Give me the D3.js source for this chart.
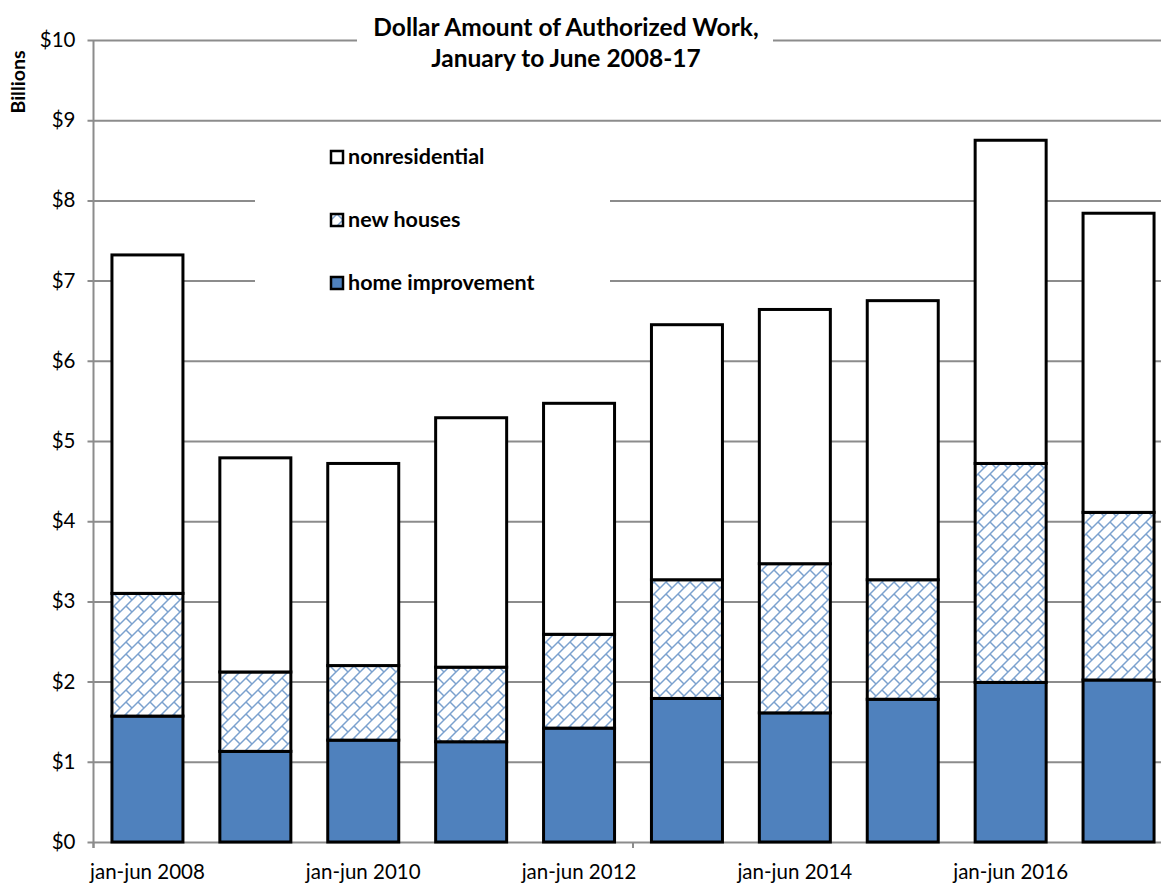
<!DOCTYPE html>
<html>
<head>
<meta charset="utf-8">
<script src="https://cdn.jsdelivr.net/npm/d3@7"></script>
<style>
  body { margin: 0; background: #fff; }
  text { font-family: Lato, "Open Sans", sans-serif; fill: #000; }
</style>
</head>
<body>
<svg id="chart" width="1161" height="883"></svg>
<script>
// data (billions of dollars)
const periods = ["2008","2009","2010","2011","2012","2013","2014","2015","2016","2017"];
const homeImprovement = [1.57, 1.13, 1.27, 1.25, 1.42, 1.79, 1.61, 1.78, 1.99, 2.02];
const newHouses       = [1.53, 0.99, 0.93, 0.93, 1.17, 1.48, 1.86, 1.49, 2.73, 2.09];
const nonresidential  = [4.22, 2.67, 2.52, 3.11, 2.88, 3.18, 3.17, 3.48, 4.03, 3.73];
const yTicks = [0,1,2,3,4,5,6,7,8,9,10];
const seriesKeys = ["home", "newh", "nonres"];
const legendNames = ["nonresidential", "new houses", "home improvement"];

const svg = d3.select("#chart");

//plot area
const pLeft = 93.5, pRight = 1172.5, pTop = 40, pBottom = 842;

const x = d3.scaleBand().domain(periods).range([pLeft, pRight])
    .paddingInner(0.342).paddingOuter(0.171);
const y = d3.scaleLinear().domain([0, 10]).range([pBottom, pTop]);

// hatch pattern for new houses
const defs = svg.append("defs");
const pat = defs.append("pattern")
    .attr("id", "hatch").attr("patternUnits", "userSpaceOnUse")
    .attr("width", 12).attr("height", 12);
pat.append("rect").attr("width", 12).attr("height", 12).attr("fill", "#fff");
pat.append("path")
    .attr("d", "M-3,3 L3,-3 M0,12 L12,0 M9,15 L15,9 M6,6 L12,12")
    .attr("stroke", "#4f81bd").attr("stroke-width", 1.5).attr("stroke-opacity", 0.75);

// gridlines + y labels
const yAxis = d3.axisLeft(y).tickValues(yTicks).tickFormat(d => "$" + d)
    .tickSize(-(pRight - pLeft)).tickPadding(18);
const gy = svg.append("g").attr("transform", `translate(${pLeft},0)`).call(yAxis);
gy.select(".domain").remove();
gy.selectAll(".tick line").attr("x1", -6).attr("stroke", "#8c8c8c").attr("stroke-width", 2);
gy.selectAll(".tick text").attr("font-size", 20.5).style("font-family", "Lato, sans-serif");

// left axis line
svg.append("line").attr("x1", pLeft).attr("x2", pLeft).attr("y1", pTop).attr("y2", pBottom + 6)
    .attr("stroke", "#8c8c8c").attr("stroke-width", 2);

// x ticks every 5 categories
[0, 5].forEach(i => {
    const xx = pLeft + i * x.step();
    svg.append("line").attr("x1", xx).attr("x2", xx).attr("y1", pBottom).attr("y2", pBottom + 6)
        .attr("stroke", "#8c8c8c").attr("stroke-width", 2);
});

// white boxes behind title and legend
svg.append("rect").attr("x", 357).attr("y", 10).attr("width", 416).attr("height", 62).attr("fill", "#fff");
svg.append("rect").attr("x", 255).attr("y", 125).attr("width", 355).attr("height", 180).attr("fill", "#fff");

// stacked bars
const rows = periods.map((p, i) => ({ period: p, home: homeImprovement[i], newh: newHouses[i], nonres: nonresidential[i] }));
const stacked = d3.stack().keys(seriesKeys)(rows);
const fills = { home: "#4f81bd", newh: "url(#hatch)", nonres: "#fff" };

svg.append("g").selectAll("g").data(stacked).join("g")
    .attr("fill", d => fills[d.key])
    .selectAll("rect").data(d => d).join("rect")
    .attr("x", d => x(d.data.period))
    .attr("width", x.bandwidth())
    .attr("y", d => y(d[1]))
    .attr("height", d => y(d[0]) - y(d[1]))
    .attr("stroke", "#000").attr("stroke-width", 3);

// x labels every other period
svg.append("g").selectAll("text").data(periods.filter((p, i) => i % 2 === 0)).join("text")
    .attr("x", d => x(d) + x.bandwidth() / 2)
    .attr("y", 879)
    .attr("text-anchor", "middle")
    .attr("font-size", 20.5)
    .text(d => "jan-jun " + d);

// title
svg.append("text").attr("x", 566).attr("y", 36).attr("text-anchor", "middle")
    .attr("font-size", 24.5).attr("font-weight", "bold").text("Dollar Amount of Authorized Work,");
svg.append("text").attr("x", 566).attr("y", 67).attr("text-anchor", "middle")
    .attr("font-size", 24.5).attr("font-weight", "bold").text("January to June 2008-17");

// y title
svg.append("text").attr("transform", "translate(25,82) rotate(-90)")
    .attr("text-anchor", "middle").attr("font-size", 19.5).attr("font-weight", "bold").text("Billions");

// legend
const legFills = ["#fff", "url(#hatch)", "#4f81bd"];
const lg = svg.append("g").selectAll("g").data(legendNames).join("g")
    .attr("transform", (d, i) => `translate(331,${157 + i * 63})`);
lg.append("rect").attr("x", 0).attr("y", -6).attr("width", 12).attr("height", 12)
    .attr("fill", (d, i) => legFills[i]).attr("stroke", "#000").attr("stroke-width", 2.5);
lg.append("text").attr("x", 17).attr("y", 7).attr("font-size", 21.5).attr("font-weight", "bold")
    .text(d => d);
</script>
</body>
</html>
